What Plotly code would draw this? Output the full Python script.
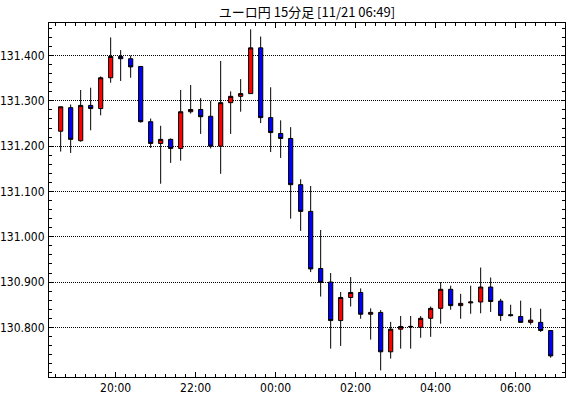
import pandas as pd
import plotly.graph_objects as go

# 15-minute candles, start times from 18:30 (11/20) to 06:45 (11/21)
start_time = "2023-11-20 18:30"
n_bars = 50
times = pd.date_range(start_time, periods=n_bars, freq="15min")

opens = [131.233, 131.285, 131.212, 131.290, 131.283, 131.351, 131.398, 131.393, 131.376, 131.254,
         131.206, 131.215, 131.195, 131.276, 131.281, 131.266, 131.200, 131.296, 131.310, 131.316,
         131.417, 131.263, 131.228, 131.217, 131.115, 131.056, 130.930, 130.900, 130.815, 130.866,
         130.877, 130.829, 130.833, 130.746, 130.796, 130.801, 130.800, 130.820, 130.842, 130.884,
         130.848, 130.854, 130.856, 130.889, 130.858, 130.828, 130.824, 130.811, 130.811, 130.793]
highs = [131.287, 131.292, 131.324, 131.329, 131.354, 131.440, 131.412, 131.400, 131.376, 131.261,
         131.245, 131.217, 131.324, 131.335, 131.306, 131.300, 131.388, 131.321, 131.348, 131.458,
         131.442, 131.330, 131.257, 131.242, 131.127, 131.112, 131.015, 130.920, 130.878, 130.911,
         130.886, 130.842, 130.838, 130.812, 130.825, 130.825, 130.825, 130.846, 130.900, 130.892,
         130.874, 130.892, 130.932, 130.910, 130.863, 130.850, 130.859, 130.843, 130.841, 130.793]
lows = [131.188, 131.185, 131.210, 131.235, 131.268, 131.340, 131.344, 131.351, 131.252, 131.196,
        131.117, 131.163, 131.168, 131.272, 131.227, 131.195, 131.139, 131.227, 131.276, 131.316,
        131.251, 131.187, 131.174, 131.040, 131.013, 130.922, 130.868, 130.753, 130.759, 130.846,
        130.819, 130.773, 130.705, 130.731, 130.753, 130.753, 130.777, 130.779, 130.808, 130.839,
        130.819, 130.830, 130.831, 130.834, 130.814, 130.824, 130.811, 130.806, 130.790, 130.733]
closes = [131.287, 131.215, 131.290, 131.283, 131.351, 131.398, 131.393, 131.375, 131.254, 131.206,
          131.215, 131.195, 131.276, 131.281, 131.265, 131.200, 131.296, 131.310, 131.316, 131.417,
          131.263, 131.230, 131.217, 131.115, 131.056, 130.929, 130.899, 130.815, 130.866, 130.877,
          130.829, 130.833, 130.746, 130.796, 130.802, 130.802, 130.820, 130.842, 130.884, 130.848,
          130.853, 130.856, 130.889, 130.857, 130.826, 130.826, 130.811, 130.816, 130.793, 130.737]

y_tick_values = [130.8, 130.9, 131.0, 131.1, 131.2, 131.3, 131.4]
y_tick_labels = ["130.800", "130.900", "131.000", "131.100", "131.200", "131.300", "131.400"]

title_text = "ユーロ円 15分足 [11/21 06:49]"

# candles drawn at the centre of their 15-minute interval
centers = times + pd.Timedelta(minutes=7.5)

fig = go.Figure(go.Candlestick(
    x=centers, open=opens, high=highs, low=lows, close=closes,
    increasing=dict(fillcolor="#ff0000", line=dict(color="#000000", width=1)),
    decreasing=dict(fillcolor="#0000ff", line=dict(color="#000000", width=1)),
    whiskerwidth=0, hoverinfo="skip", showlegend=False,
))

label_font = dict(family="Liberation Sans Narrow, DejaVu Sans Condensed, Arial Narrow, Liberation Sans, sans-serif",
                  size=12, color="#000000")

fig.update_layout(
    width=570, height=398,
    margin=dict(l=49, r=5, t=23, b=21),
    paper_bgcolor="#ffffff", plot_bgcolor="#ffffff",
    boxgap=0.4,
    title=dict(text=title_text, x=307 / 570, xanchor="center", y=1 - 12 / 398, yanchor="middle",
               font=dict(family="Noto Sans CJK JP, sans-serif", size=13, color="#000000")),
    xaxis=dict(
        type="date", automargin=False,
        range=["2023-11-20 18:20", "2023-11-21 07:14"],
        rangeslider=dict(visible=False),
        tickmode="linear", tick0="2023-11-20 20:00", dtick=2 * 3600 * 1000,
        tickformat="%H:%M",
        ticks="inside", ticklen=5, tickcolor="#000000", tickwidth=1,
        minor=dict(ticks="inside", ticklen=3, tickcolor="#000000", dtick=15 * 60 * 1000,
                   tick0="2023-11-20 18:30", showgrid=False),
        showgrid=False, zeroline=False,
        showline=True, linecolor="#000000", linewidth=1, mirror="ticks",
        tickfont=label_font,
    ),
    yaxis=dict(
        automargin=False,
        range=[130.6904, 131.4719],
        tickmode="array", tickvals=y_tick_values, ticktext=y_tick_labels,
        ticks="inside", ticklen=4, tickcolor="#000000", tickwidth=1,
        minor=dict(ticks="inside", ticklen=3, tickcolor="#000000", dtick=0.02, tick0=130.8, showgrid=False),
        showgrid=True, gridcolor="#000000", griddash="1px,1px", gridwidth=1,
        zeroline=False,
        showline=True, linecolor="#000000", linewidth=1, mirror="ticks",
        tickfont=label_font, ticklabelstandoff=1,
    ),
)

fig.write_html("out.html", config={"displayModeBar": False},
               post_script="document.body.style.margin='0';")
